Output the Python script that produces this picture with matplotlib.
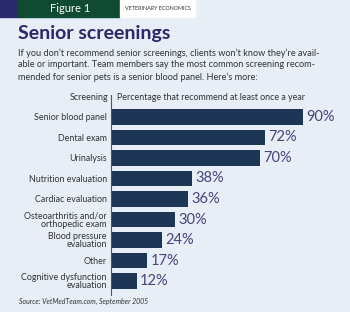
import matplotlib.pyplot as plt
from matplotlib.patches import Rectangle

screenings = ["Senior blood panel", "Dental exam", "Urinalysis", "Nutrition evaluation",
              "Cardiac evaluation", "Osteoarthritis and/or\northopedic exam",
              "Blood pressure\nevaluation", "Other", "Cognitive dysfunction\nevaluation"]
percent = [90, 72, 70, 38, 36, 30, 24, 17, 12]

W, H = 350, 312
bg = "#e7eef6"
bar_color = "#1d3656"
label_color = "#45457a"
title_color = "#2a2868"
plt.rcParams['font.family'] = ['Lato', 'DejaVu Sans']

fig = plt.figure(figsize=(W / 100, H / 100), dpi=100)
fig.patch.set_facecolor(bg)

def fx(px):
    return px / W

def fy(py):
    return 1 - py / H

# header strip
fig.patches.append(Rectangle((0, fy(17)), fx(18), 17 / H, transform=fig.transFigure, color="#2b2a6e"))
fig.patches.append(Rectangle((fx(18), fy(17)), fx(102), 17 / H, transform=fig.transFigure, color="#0f4a32"))
fig.patches.append(Rectangle((fx(120), fy(17)), fx(75), 17 / H, transform=fig.transFigure, color="white"))
fig.text(fx(70), fy(8.5), "Figure 1", color="white", fontsize=8, ha="center", va="center")
fig.text(fx(125), fy(8.5), "VETERINARY ECONOMICS", color="#333333", fontsize=3.9, ha="left", va="center")

fig.text(fx(18), fy(33), "Senior screenings", color=title_color, fontsize=14, fontweight="bold",
         ha="left", va="center")
body = ("If you don\u2019t recommend senior screenings, clients won\u2019t know they\u2019re avail-\n"
        "able or important. Team members say the most common screening recom-\n"
        "mended for senior pets is a senior blood panel. Here\u2019s more:")
fig.text(fx(18), fy(65), body, color="#333333", fontsize=6.6, ha="left", va="center", linespacing=1.4)

# bars
ax = fig.add_axes([fx(111), fy(295), 213.3 / W, 200 / H])
ax.set_facecolor("none")
y = list(range(len(screenings)))
ax.barh(y, percent, height=0.75, color=bar_color)
ax.set_xlim(0, 100)
ax.set_ylim(8.68, -1.07)
for yi, p in zip(y, percent):
    ax.text(p + 1.5, yi, f"{p}%", color=label_color, fontsize=10.5,
            ha="left", va="center")
ax.set_yticks(y)
ax.set_yticklabels(screenings, fontsize=6.4, color="#333333", linespacing=0.9)
ax.tick_params(axis="y", length=0, pad=3)
ax.set_xticks([])
for s in ["top", "right", "bottom"]:
    ax.spines[s].set_visible(False)
ax.spines["left"].set_color("#555555")
ax.spines["left"].set_linewidth(0.8)

fig.text(fx(108), fy(98), "Screening", color="#333333", fontsize=6.4, ha="right", va="center")
fig.text(fx(117), fy(98), "Percentage that recommend at least once a year", color="#333333",
         fontsize=6.4, ha="left", va="center")
fig.text(fx(19), fy(301), "Source: VetMedTeam.com, September 2005", color="#333333",
         fontsize=5, style="italic", ha="left", va="center")

fig.savefig("out.png", dpi=100, facecolor=bg)
